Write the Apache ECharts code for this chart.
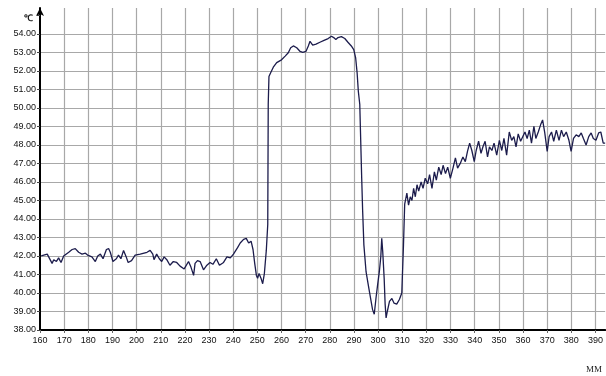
<!DOCTYPE html>
<html>
<head>
<meta charset="utf-8">
<script src="https://cdn.jsdelivr.net/npm/echarts@6/dist/echarts.min.js"></script>
<style>html,body{margin:0;padding:0;background:#fff;}#c{width:606px;height:376px;}</style>
</head>
<body>
<div id="c"></div>
<script>
const yTickLabels = ['38.00','39.00','40.00','41.00','42.00','43.00','44.00','45.00','46.00','47.00','48.00','49.00','50.00','51.00','52.00','53.00','54.00'];
const xTickLabels = ['160','170','180','190','200','210','220','230','240','250','260','270','280','290','300','310','320','330','340','350','360','370','380','390'];
const yUnit = '℃';
const xUnit = 'MM';

const positionMm = [
160.5,163,165,165.7,166.8,167.7,168.7,169.8,170.5,171.9,173.3,174.6,176,177.4,178.8,179.7,180.5,181.5,182.9,183.9,185,186.1,187.5,188.4,189.1,190.2,191.6,192.5,193.5,194.6,195.7,196.5,197.9,199.4,201.5,204.3,205.6,206.7,207.2,208.3,209.4,210.4,211.4,212.5,213.8,215.2,216.6,218,219.7,220.5,221.5,222.5,223.6,224.2,225.2,
226.3,227.7,229.1,230.4,231.6,233,234.3,236,237.4,238.8,240.1,240.8,241.8,242.9,244.3,245.4,246.4,247.4,248.2,248.9,249.6,250.1,250.7,251.5,252.2,252.9,253.7,254.3,254.5,254.8,255.5,256.6,258,260,261.5,262.8,263.8,264.9,266.3,267.7,268.8,270.1,271.1,271.8,272.9,274.3,275.9,277.6,279.3,280.7,281.6,282.5,283.4,284.8,286.2,287.5,288.9,289.9,290.7,291.3,291.8,292.4,
293.2,293.6,294.1,295,295.9,296.9,297.7,298.4,299.1,299.8,300.5,301.1,301.5,301.9,302.5,302.9,303.3,303.8,304.7,305.7,306.6,307.7,308.8,309.8,310.5,
311,311.9,312.6,313.3,314,314.7,315.4,316.1,316.8,317.8,318.6,319.5,320.5,321.3,322.3,323.3,324.1,325.1,326.1,326.9,327.9,328.8,329.9,331,332,332.9,334,335.1,336.1,337,337.9,338.8,339.8,340.6,341.6,342.6,343.4,344.3,345.3,346.1,347.1,348,349.1,350.2,351.2,352.1,353.2,354.3,355.3,356.2,357.1,358,359,359.8,360.8,361.7,362.6,363.5,364.5,365.3,366.3,367.3,368.1,369,370,370.8,371.8,372.7,373.8,374.9,375.9,376.8,377.9,379,379.9,380.9,382,383.1,384.1,385,386.1,387.2,388.2,389.1,390.2,391.3,392.2,393.2,394
];
const temperature = [
42.0,42.1,41.6,41.8,41.7,41.9,41.65,42.0,42.05,42.2,42.35,42.4,42.2,42.1,42.15,42.05,42.15,41.95,41.7,42.0,42.1,41.85,42.35,42.4,42.2,41.7,41.85,42.05,41.85,42.3,41.95,41.65,41.75,42.05,42.1,42.2,42.3,42.1,41.8,42.1,41.85,41.7,41.95,41.8,41.5,41.7,41.65,41.45,41.3,41.25,41.7,41.4,40.95,41.6,41.75,
41.7,41.25,41.5,41.65,41.55,41.85,41.5,41.65,41.95,41.9,42.1,42.2,42.45,42.7,42.9,42.95,42.7,42.8,42.35,41.6,40.95,40.8,41.05,40.8,40.5,41.05,42.3,43.7,50.2,51.7,51.9,52.2,52.45,52.6,52.8,52.98,53.25,53.35,53.25,53.05,53.0,53.05,53.35,53.6,53.4,53.45,53.55,53.65,53.75,53.87,53.8,53.7,53.8,53.85,53.75,53.55,53.35,53.15,52.7,51.9,50.9,50.2,
46.2,44.4,42.6,41.15,40.45,39.7,39.1,38.85,39.7,40.45,41.15,41.95,42.95,42.25,40.8,39.4,38.65,39.0,39.55,39.7,39.45,39.4,39.65,40.0,42.6,
44.8,45.4,44.75,45.2,45.0,45.65,45.2,45.85,45.5,46.0,45.65,46.2,45.9,46.4,45.65,46.55,46.1,46.8,46.4,46.9,46.45,46.8,46.2,46.75,47.3,46.75,47.0,47.35,47.1,47.65,48.1,47.7,47.1,47.7,48.2,47.55,47.9,48.2,47.35,47.9,47.7,48.1,47.45,48.25,47.7,48.35,47.45,48.7,48.25,48.45,47.9,48.6,48.2,48.1,48.7,48.35,48.8,48.1,49.0,48.35,48.7,49.1,49.35,48.65,47.65,48.45,48.7,48.2,48.8,48.25,48.8,48.45,48.7,48.25,47.65,48.35,48.55,48.45,48.65,48.35,48.0,48.45,48.65,48.35,48.25,48.65,48.7,48.1,48.1
];

const series = positionMm.map((x, i) => [x, temperature[i]]);
const yLabelSet = new Set(yTickLabels);
const xLabelSet = new Set(xTickLabels);
const gridColor = '#a8a8a8';
const yLineColors = yTickLabels.map(() => gridColor).concat(['rgba(0,0,0,0)']);

const chart = echarts.init(document.getElementById('c'), null, {renderer: 'canvas'});
chart.setOption({
  backgroundColor: '#ffffff',
  animation: false,
  grid: {left: 40, right: 0, top: 8, bottom: 46, containLabel: false},
  xAxis: {
    type: 'value', min: 160, max: 394, interval: 10,
    axisLine: {show: true, lineStyle: {color: '#000', width: 2}},
    axisTick: {show: true, length: 3, lineStyle: {color: '#666'}},
    axisLabel: {
      margin: 6, color: '#111', fontSize: 9, fontFamily: 'Liberation Sans, Arial',
      showMaxLabel: false,
      formatter: v => { const s = String(Math.round(v)); return (xLabelSet.has(s) && Math.abs(v - Math.round(v)) < 1e-6) ? s : ''; }
    },
    splitLine: {show: true, showMinLine: false, showMaxLine: false, lineStyle: {color: gridColor, width: 1.2}}
  },
  yAxis: {
    type: 'value', min: 38, max: 55.4, interval: 1,
    axisLine: {show: true, symbol: ['none', 'arrow'], symbolSize: [6, 8], lineStyle: {color: '#000', width: 2}},
    axisTick: {show: true, length: 3, lineStyle: {color: '#444'}},
    axisLabel: {
      margin: 4, color: '#111', fontSize: 9, fontFamily: 'Liberation Sans, Arial',
      showMaxLabel: false,
      formatter: v => { const s = v.toFixed(2); return yLabelSet.has(s) ? s : ''; }
    },
    splitLine: {show: true, showMaxLine: false, lineStyle: {color: yLineColors, width: 1.2}}
  },
  graphic: [
    {type: 'text', left: 24, top: 14, style: {text: yUnit, fontSize: 9, fontWeight: 'bold', fill: '#111', fontFamily: 'Liberation Sans, Arial'}},
    {type: 'text', right: 4, top: 365, style: {text: xUnit, fontSize: 9, fill: '#222', fontFamily: 'Liberation Serif, Times New Roman'}}
  ],
  series: [{
    type: 'line', data: series, showSymbol: false, symbol: 'none',
    lineStyle: {color: '#1c1c4c', width: 1.3}
  }]
});
</script>
</body>
</html>
